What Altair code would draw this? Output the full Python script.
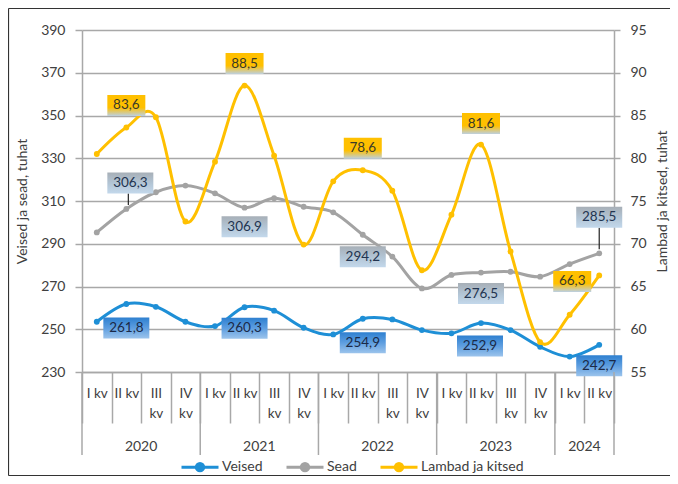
import altair as alt
import pandas as pd

# ---------------- data ----------------
years = [2020] * 4 + [2021] * 4 + [2022] * 4 + [2023] * 4 + [2024] * 2
quarters = ["I kv", "II kv", "III kv", "IV kv"] * 4 + ["I kv", "II kv"]

veised = [253.5, 261.8, 260.5, 253.5, 251.5, 260.3, 258.7, 250.7, 247.6,
          254.9, 254.6, 249.6, 248.1, 252.9, 249.6, 241.8, 237.2, 242.7]
sead = [295.3, 306.3, 314.1, 317.2, 313.6, 306.9, 311.3, 307.3, 304.7,
        294.2, 284.0, 269.1, 275.4, 276.5, 276.9, 274.6, 280.5, 285.5]
lambad = [80.5, 83.6, 84.8, 72.6, 79.6, 88.5, 80.3, 69.9, 77.3,
          78.6, 76.2, 66.9, 73.4, 81.6, 69.1, 58.5, 61.7, 66.3]

series_names = ["Veised", "Sead", "Lambad ja kitsed"]
left_title = "Veised ja sead, tuhat"
right_title = "Lambad ja kitsed, tuhat"
left_ticks = [230, 250, 270, 290, 310, 330, 350, 370, 390]
right_ticks = [55, 60, 65, 70, 75, 80, 85, 90, 95]
labelled_quarter = "II kv"

# ---------------- styles ----------------
COLORS = ["#1E8FD6", "#A3A3A3", "#FFC000"]
GRID = "#A8A8A8"
TXT = "#404040"
FONT = "Lato"

# label box offsets (px) per series, in order of labelled points
OFFSETS = {
    "Veised": [(0, 24), (0, 21), (0, 24), (-1, 23), (0, 21)],
    "Sead": [(4, -26), (0, 19), (0, 22), (0, 21), (0, -36)],
    "Lambad ja kitsed": [(0, -22), (0, -22), (0, -22), (0, -21), (-27, 6)],
}
LEADERS = {("Sead", 0), ("Sead", 4)}

BOX_FILL = {
    "Veised": [("#2E80D0", 0), ("#5E9EE0", 0.5), ("#9CC4EC", 1)],
    "Sead": [("#A7AFB7", 0), ("#B2C4D4", 0.5), ("#C3D8EB", 1)],
    "Lambad ja kitsed": [("#FFC000", 0), ("#FFC000", 0.6), ("#BCD0E2", 1)],
}
BOX_TEXT = {"Veised": "#1B2A48", "Sead": "#223450", "Lambad ja kitsed": "#3A3A2A"}

keys = [f"{y} {q}" for y, q in zip(years, quarters)]

rows = []
for name, vals in zip(series_names, [veised, sead, lambad]):
    for k, q, v in zip(keys, quarters, vals):
        rows.append({"key": k, "quarter": q, "series": name, "value": v,
                     "label": f"{v:.1f}".replace(".", ",")})
df = pd.DataFrame(rows)

xscale = alt.Scale(type="band", domain=keys, paddingInner=0, paddingOuter=0)
lscale = alt.Scale(domain=[left_ticks[0], left_ticks[-1]], nice=False, zero=False)
rscale = alt.Scale(domain=[right_ticks[0], right_ticks[-1]], nice=False, zero=False)
cscale = alt.Scale(domain=series_names, range=COLORS)

x_axis = alt.Axis(
    orient="bottom", title=None, tickBand="extent", tickSize=51, tickColor=GRID,
    tickWidth=1.5, domain=True, domainColor=GRID, domainWidth=1.5,
    labelExpr="(indexof(datum.label, 'III') >= 0 || indexof(datum.label, 'IV') >= 0) "
              "? split(slice(datum.label, 5), ' ') : slice(datum.label, 5)",
    labelAngle=0, labelFontSize=13.5, labelColor=TXT, labelFont=FONT,
    labelPadding=-37, labelLineHeight=20, labelOverlap=False, labelBaseline="top",
    grid=False,
)


def xenc(band=0.5):
    return alt.X("key:N", scale=xscale, axis=x_axis, bandPosition=band)


left_axis = alt.Axis(
    orient="left", values=left_ticks, grid=True, gridColor=GRID, gridWidth=1.5,
    tickSize=7, tickColor=GRID, tickWidth=1.5, domain=True, domainColor=GRID,
    domainWidth=1.5, labelFontSize=14, labelColor=TXT, labelFont=FONT,
    labelPadding=10, title=left_title, titleFontSize=14, titleFontWeight="normal",
    titleColor=TXT, titleFont=FONT, titlePadding=11,
)
right_axis = alt.Axis(
    orient="right", values=right_ticks, grid=False, tickSize=6, tickColor=GRID,
    tickWidth=1.5, domain=True, domainColor=GRID, domainWidth=1.5,
    labelFontSize=14, labelColor=TXT, labelFont=FONT, labelPadding=10,
    title=right_title, titleFontSize=14, titleFontWeight="normal", titleColor=TXT,
    titleFont=FONT, titlePadding=9, titleAngle=270, titleBaseline="top",
)

legend = alt.Legend(
    orient="none", legendX=98, legendY=417, direction="horizontal", title=None,
    symbolType="M-1,0H1M-0.2,0A0.2,0.2,0,1,1,0.2,0A0.2,0.2,0,1,1,-0.2,0Z",
    symbolSize=1369, symbolStrokeWidth=3, labelFontSize=14, labelColor=TXT,
    labelFont=FONT, labelOffset=2, columnPadding=17, padding=0,
)

left_df = df[df.series != series_names[2]]
right_df = df[df.series == series_names[2]]

layers = []

# lines
layers.append(alt.Chart(left_df).mark_line(interpolate="cardinal", strokeWidth=3).encode(
    x=xenc(),
    y=alt.Y("value:Q", scale=lscale, axis=left_axis),
    color=alt.Color("series:N", scale=cscale, legend=legend),
    detail="series:N",
))
layers.append(alt.Chart(left_df).mark_point(filled=True, size=34, opacity=1).encode(
    x=xenc(),
    y=alt.Y("value:Q", scale=lscale, axis=None),
    color=alt.Color("series:N", scale=cscale, legend=None),
))
layers.append(alt.Chart(right_df).mark_line(interpolate="cardinal", strokeWidth=3).encode(
    x=xenc(),
    y=alt.Y("value:Q", scale=rscale, axis=right_axis),
    color=alt.Color("series:N", scale=cscale, legend=legend),
))
layers.append(alt.Chart(right_df).mark_point(filled=True, size=34, opacity=1).encode(
    x=xenc(),
    y=alt.Y("value:Q", scale=rscale, axis=None),
    color=alt.Color("series:N", scale=cscale, legend=None),
))

# data labels
for name in series_names:
    sub = df[(df.series == name) & (df.quarter == labelled_quarter)].reset_index(drop=True)
    sc = rscale if name == series_names[2] else lscale
    grad = alt.Gradient(gradient="linear", x1=0, x2=0, y1=0, y2=1,
                        stops=[alt.GradientStop(color=c, offset=o) for c, o in BOX_FILL[name]])
    for i in range(len(sub)):
        one = sub.iloc[[i]]
        dx, dy = OFFSETS[name][i]
        w = 8 * len(one["label"].iloc[0]) + 6
        enc = dict(x=xenc(), y=alt.Y("value:Q", scale=sc, axis=None))
        if (name, i) in LEADERS:
            layers.append(alt.Chart(one).mark_rule(
                color="#222222", strokeWidth=1.2, yOffset=dy + 10.5, y2Offset=-4,
                xOffset=dx * 0.5).encode(
                x=enc["x"], y=enc["y"], y2=alt.Y2("value:Q")))
        layers.append(alt.Chart(one).mark_rect(
            width=w, height=21, xOffset=dx, yOffset=dy, fill=grad).encode(**enc))
        layers.append(alt.Chart(one).mark_text(
            xOffset=dx, yOffset=dy, fontSize=13.5, font=FONT, color=BOX_TEXT[name],
            baseline="middle", align="center").encode(text="label:N", **enc))

# year separators and labels (below the plot)
year_list = sorted(set(years))
starts = [keys[years.index(y)] for y in year_list]
mids = [keys[years.index(y) + years.count(y) // 2 - 1] for y in year_list]
sep_df = pd.DataFrame({"key": starts})
end_df = pd.DataFrame({"key": [keys[-1]]})
yl_df = pd.DataFrame({"key": mids, "year": [str(y) for y in year_list]})

rule_style = dict(color=GRID, strokeWidth=1.5)
layers.append(alt.Chart(sep_df).mark_rule(**rule_style).encode(
    x=xenc(0), y=alt.value(342), y2=alt.value(425)))
layers.append(alt.Chart(end_df).mark_rule(**rule_style).encode(
    x=xenc(1), y=alt.value(342), y2=alt.value(425)))
layers.append(alt.Chart(yl_df).mark_text(fontSize=14, font=FONT, color=TXT,
                                         baseline="middle").encode(
    x=xenc(1), y=alt.value(417), text="year:N"))

# outer frame
frame_df = pd.DataFrame({"k": [0]})
layers.append(alt.Chart(frame_df).mark_rule(color="#333333", strokeWidth=1.2).encode(
    x=alt.value(-73.5), y=alt.value(-21.5), y2=alt.value(445.5)))
layers.append(alt.Chart(frame_df).mark_rule(color="#333333", strokeWidth=1.2).encode(
    x=alt.value(-73.5), x2=alt.value(600), y=alt.value(-21.5)))
layers.append(alt.Chart(frame_df).mark_rule(color="#333333", strokeWidth=1.2).encode(
    x=alt.value(-73.5), x2=alt.value(600), y=alt.value(445.5)))

chart = alt.layer(*layers).resolve_scale(y="independent").properties(
    width=532, height=342,
    padding={"left": 74, "top": 22, "right": 56, "bottom": 104},
    autosize=alt.AutoSizeParams(type="none"),
    background="white",
).configure_view(stroke=None)

chart.save("out.html", embed_options={"renderer": "svg", "actions": False})
